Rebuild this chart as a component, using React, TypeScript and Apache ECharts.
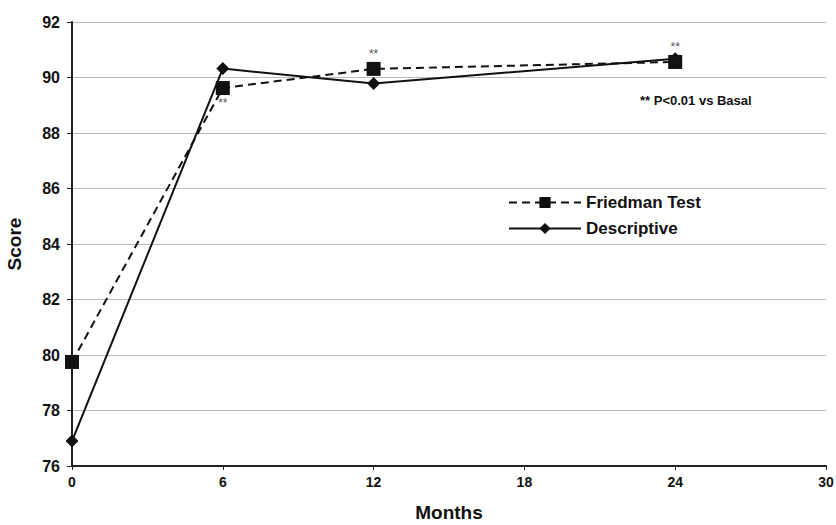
import React, { useEffect, useRef } from "react";
import * as echarts from "echarts";

const months = [0, 6, 12, 24];
const friedman = [79.75, 89.62, 90.31, 90.56];
const descriptive = [76.9, 90.32, 89.78, 90.68];
const friedmanMarks = ["", "bottom", "top", "top"];
const yTicks = { min: 76, max: 92, interval: 2 };
const xTicks = { min: 0, max: 30, interval: 6 };
const note = "** P<0.01 vs Basal";

const FONT = "Liberation Sans, Arial, sans-serif";

export default function App() {
  const ref = useRef<HTMLDivElement>(null);
  useEffect(() => {
    if (!ref.current) return;
    const chart = echarts.init(ref.current, null, { renderer: "svg" });
    chart.setOption({
      animation: false,
      backgroundColor: "#fff",
      textStyle: { fontFamily: FONT },
      grid: { left: 72, right: 10, top: 22, bottom: 59, outerBoundsMode: "none", containLabel: false },
      legend: {
        orient: "vertical",
        left: 503,
        top: 189,
        itemWidth: 72,
        itemHeight: 14,
        itemGap: 9,
        textStyle: { fontFamily: FONT, fontWeight: "bold", fontSize: 17, color: "#111" },
        data: ["Friedman Test", "Descriptive"],
      },
      graphic: [
        {
          type: "text",
          left: 640,
          top: 94,
          style: { text: note, font: `bold 13px ${FONT}`, fill: "#111" },
        },
      ],
      xAxis: {
        type: "value",
        min: xTicks.min,
        max: xTicks.max,
        interval: xTicks.interval,
        name: "Months",
        nameLocation: "middle",
        nameGap: 37,
        nameTextStyle: { fontFamily: FONT, fontWeight: "bold", fontSize: 19, color: "#111" },
        axisLine: { lineStyle: { color: "#222", width: 2 } },
        axisTick: { show: true, length: 4, lineStyle: { color: "#222" } },
        axisLabel: { fontFamily: FONT, fontWeight: "bold", fontSize: 14, color: "#111", margin: 9 },
        splitLine: { show: false },
      },
      yAxis: {
        type: "value",
        min: yTicks.min,
        max: yTicks.max,
        interval: yTicks.interval,
        name: "Score",
        nameLocation: "middle",
        nameGap: 48,
        nameTextStyle: { fontFamily: FONT, fontWeight: "bold", fontSize: 19, color: "#111" },
        axisLine: { show: true, lineStyle: { color: "#222", width: 2 } },
        axisTick: { show: true, length: 5, inside: false, lineStyle: { color: "#222" } },
        axisLabel: { fontFamily: FONT, fontWeight: "bold", fontSize: 16, color: "#111", margin: 12 },
        splitLine: { show: true, lineStyle: { color: "#bbb", width: 1 } },
      },
      series: [
        {
          name: "Friedman Test",
          type: "line",
          symbol: "rect",
          symbolSize: 14,
          itemStyle: { color: "#111" },
          lineStyle: { color: "#111", width: 2, type: [8, 5] },
          z: 3,
          data: months.map((m, i) => ({
            value: [m, friedman[i]],
            label: friedmanMarks[i]
              ? {
                  show: true,
                  formatter: "**",
                  position: friedmanMarks[i],
                  distance: 2,
                  fontSize: 12,
                  color: "#555",
                  fontFamily: FONT,
                }
              : { show: false },
          })),
        },
        {
          name: "Descriptive",
          type: "line",
          symbol: "diamond",
          symbolSize: 13,
          itemStyle: { color: "#111" },
          lineStyle: { color: "#111", width: 2 },
          z: 2,
          data: months.map((m, i) => [m, descriptive[i]]),
        },
      ],
    });
    return () => chart.dispose();
  }, []);
  return <div ref={ref} style={{ width: 836, height: 525, position: "absolute", left: 0, top: 0 }} />;
}
